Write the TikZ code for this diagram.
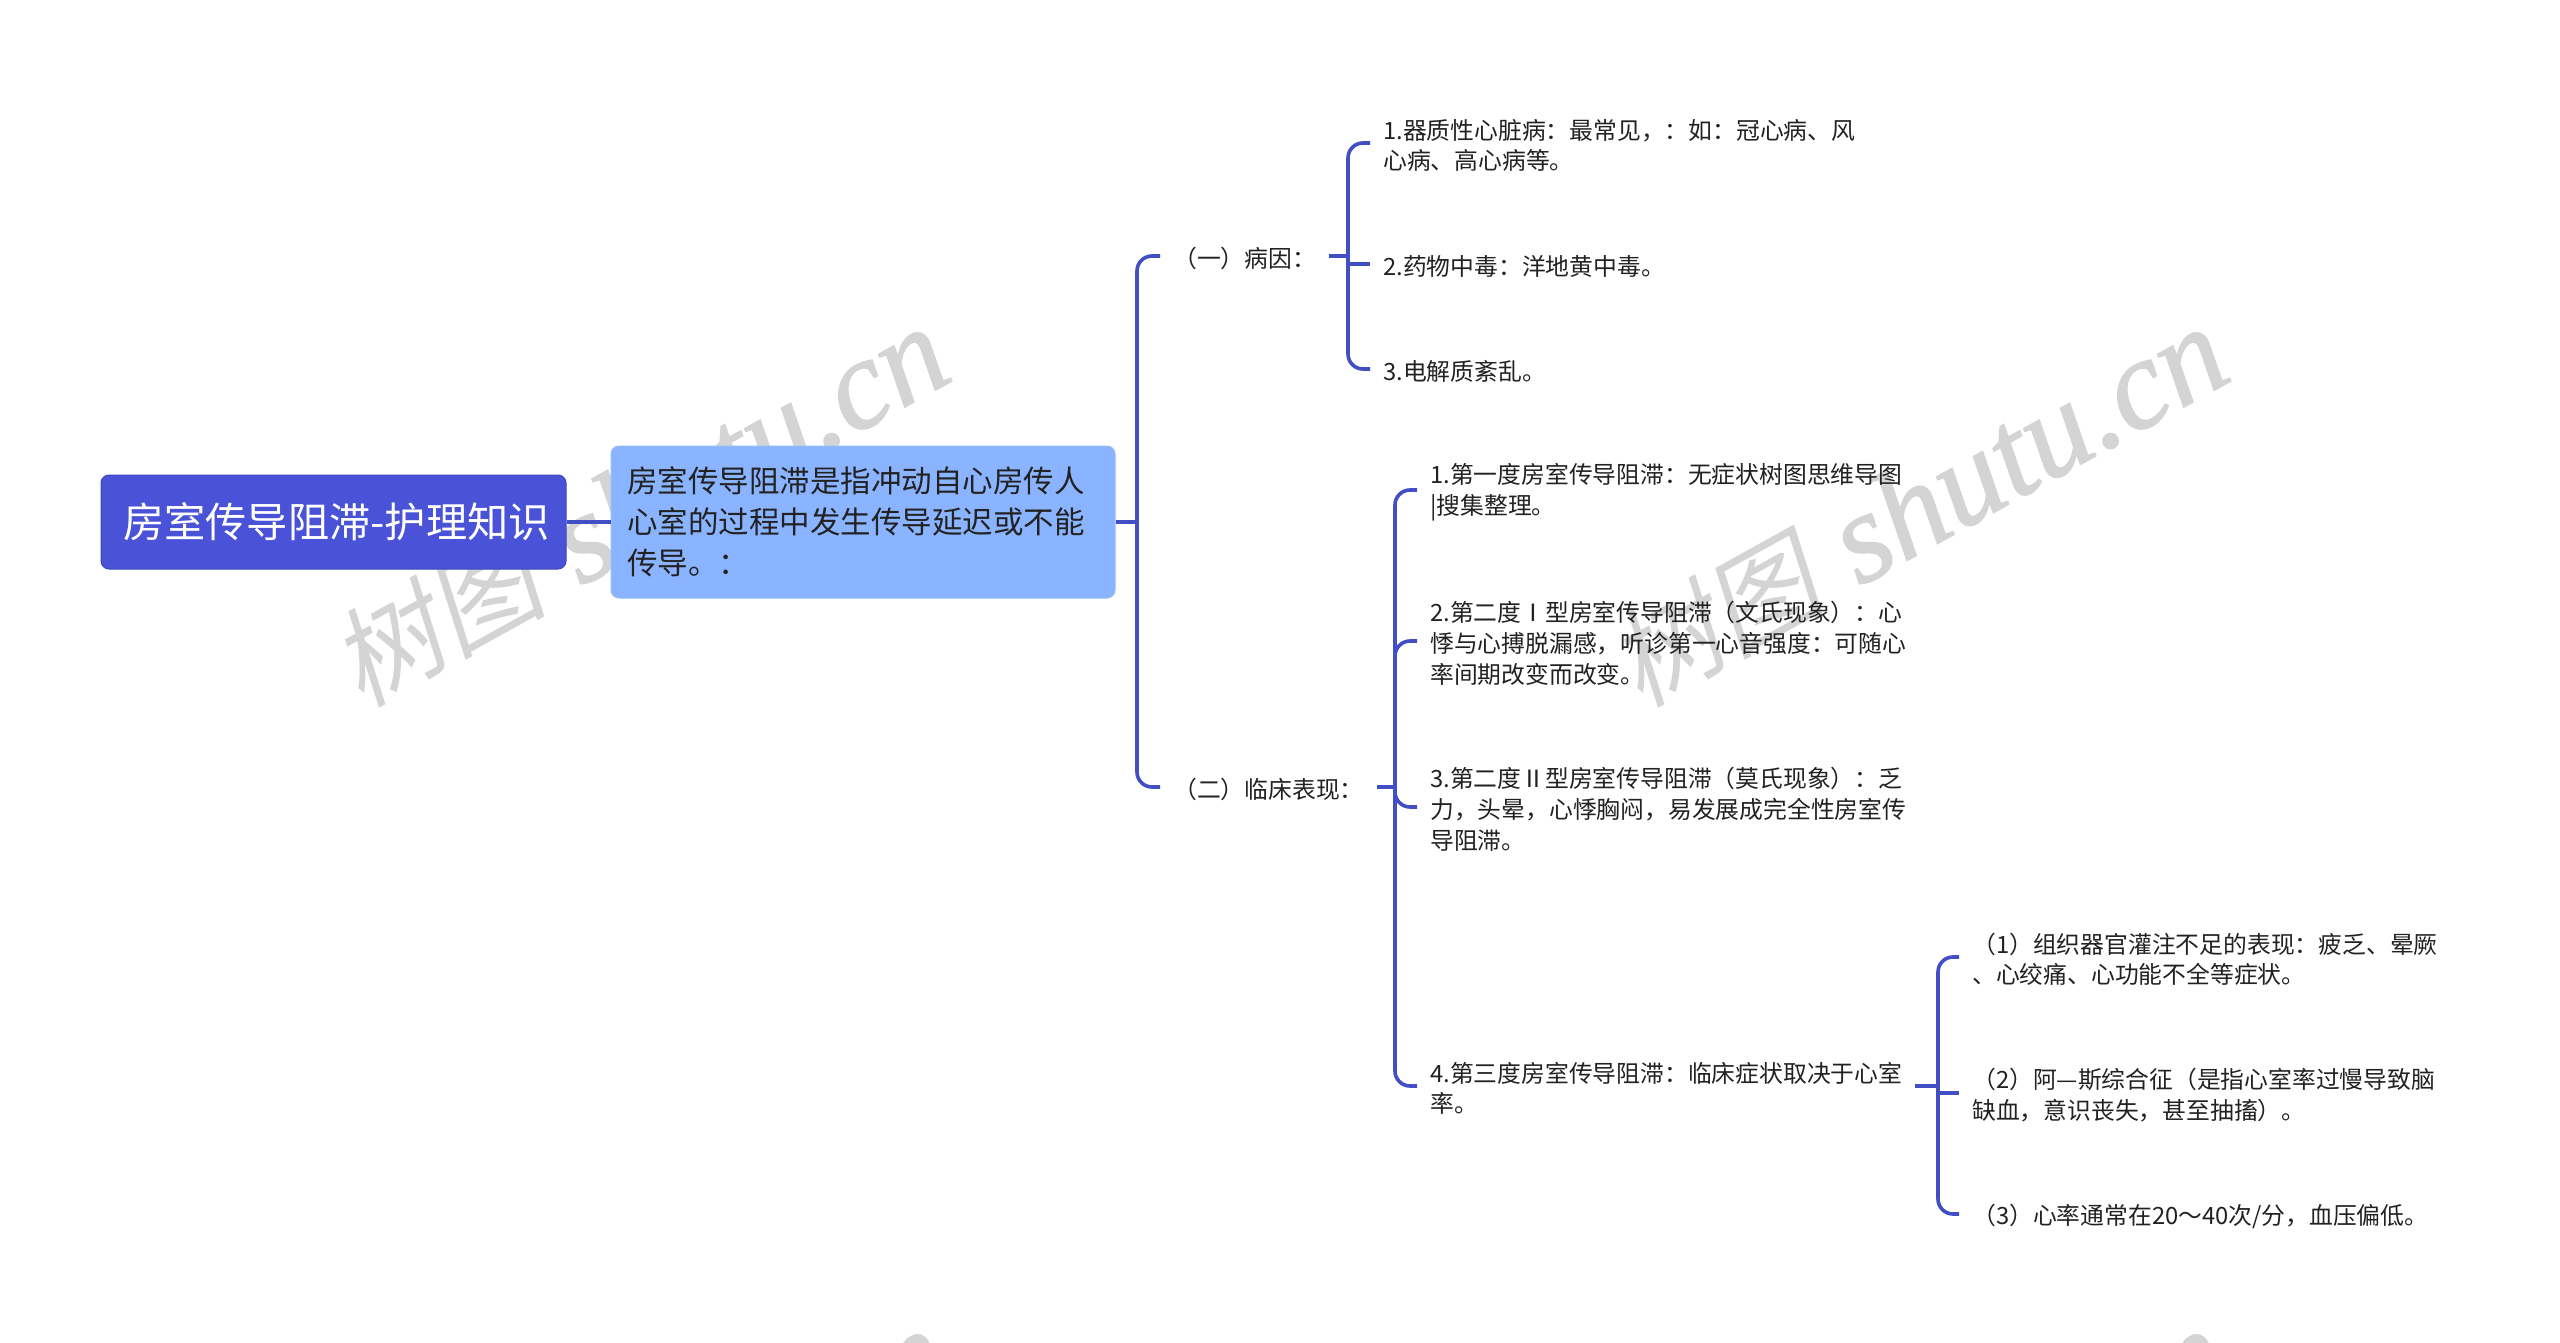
\documentclass[tikz,border=0pt]{standalone}
\usepackage{fontspec}
\setmainfont{Noto Sans CJK SC}
\newfontfamily\wmcjk[FakeSlant=0.2]{Noto Sans CJK SC}
\newfontfamily\wmlat[FakeBold=1.2]{Liberation Serif Italic}
\definecolor{rootfill}{RGB}{74,83,216}
\definecolor{rootedge}{RGB}{62,72,190}
\definecolor{subfill}{RGB}{138,180,255}
\definecolor{subedge}{RGB}{150,188,250}
\definecolor{linkcol}{RGB}{66,78,196}
\definecolor{wmcol}{RGB}{212,212,212}
\definecolor{inkcol}{RGB}{34,34,34}
\tikzset{
  rootbox/.style={draw=rootedge,line width=1pt,fill=rootfill,rounded corners=8pt,minimum width=465pt,minimum height=94pt,inner sep=0pt,text=white,font=\fontsize{41.2}{48}\selectfont},
  subbox/.style={draw=subedge,line width=1pt,fill=subfill,rounded corners=8pt,minimum width=504pt,minimum height=152pt,inner xsep=16pt,inner ysep=0pt,text width=472pt,align=left,text=inkcol,font=\fontsize{30.5}{41}\selectfont},
  leaf/.style={anchor=west,inner xsep=13pt,inner ysep=0pt,align=left,text=inkcol,font=\fontsize{23.8}{30.7}\selectfont},
  link/.style={draw=linkcol,line width=3.6pt},
  bracket/.style={link,rounded corners=15pt},
  wmark/.style={rotate=29,text=wmcol,inner sep=0pt}
}
\newcommand{\lf}{\rule{0pt}{25pt}}
\newcommand{\wmtext}{{\fontsize{108}{130}\selectfont\wmcjk 树图}\hspace{35pt}{\fontsize{128}{130}\selectfont\wmlat shutu.cn}}
\begin{document}
\begin{tikzpicture}[x=1pt,y=1pt]
\useasboundingbox (0,0) rectangle (2560,-1343);
\fill[white] (0,0) rectangle (2560,-1343);
\begin{scope}
\clip (0,0) rectangle (2560,-1343);
\node[wmark] (w1) at (639,-507.5) {\wmtext};
\node[wmark] (w2) at (1918,-507.5) {\wmtext};
\node[wmark] (w3) at (639,-1509.5) {\wmtext};
\node[wmark] (w4) at (1918,-1509.5) {\wmtext};
\end{scope}

\node[rootbox] (root) at (333.5,-522) {\hspace*{6pt}房室传导阻滞-护理知识};
\node[subbox] (sub) at (863,-522) {房室传导阻滞是指冲动自心房传人\\心室的过程中发生传导延迟或不能\\传导。：};

\node[leaf] (pa) at (1160,-256) {\lf（一）病因：};
\node[leaf] (pb) at (1160,-787) {\lf（二）临床表现：};

\node[leaf] (a1) at (1370,-143) {\lf 1.器质性心脏病：最常见，：如：冠心病、风\\心病、高心病等。};
\node[leaf] (a2) at (1370,-264) {\lf 2.药物中毒：洋地黄中毒。};
\node[leaf] (a3) at (1370,-369) {\lf 3.电解质紊乱。};

\node[leaf] (b1) at (1417,-490) {\lf 1.第一度房室传导阻滞：无症状树图思维导图\\|搜集整理。};
\node[leaf] (b2) at (1417,-641) {\lf 2.第二度Ⅰ型房室传导阻滞（文氏现象）：心\\悸与心搏脱漏感，听诊第一心音强度：可随心\\率间期改变而改变。};
\node[leaf] (b3) at (1417,-807) {\lf 3.第二度Ⅱ型房室传导阻滞（莫氏现象）：乏\\力，头晕，心悸胸闷，易发展成完全性房室传\\导阻滞。};
\node[leaf] (b4) at (1417,-1086) {\lf 4.第三度房室传导阻滞：临床症状取决于心室\\率。};

\node[leaf] (c1) at (1959,-957) {\lf（1）组织器官灌注不足的表现：疲乏、晕厥\\、心绞痛、心功能不全等症状。};
\node[leaf] (c2) at (1959,-1093) {\lf（2）阿—斯综合征（是指心室率过慢导致脑\\缺血，意识丧失，甚至抽搐）。};
\node[leaf] (c3) at (1959,-1214) {\lf（3）心率通常在20～40次/分，血压偏低。};

\coordinate (tm) at (1137,-522);
\coordinate (ta) at (1348,-256);
\coordinate (tb) at (1395,-787);
\coordinate (tc) at (1938,-1086);

\draw[link] (root.east) -- (sub.west);
\draw[link] (sub.east) -- (tm);
\draw[bracket] (pa.west) -- (tm |- pa.west) -- (tm |- pb.west) -- (pb.west);

\draw[link] (pa.east) -- (ta);
\draw[bracket] (a1.west) -- (ta |- a1.west) -- (ta |- a3.west) -- (a3.west);
\draw[link] (ta |- a2.west) -- (a2.west);

\draw[link] (pb.east) -- (tb);
\draw[bracket] (b1.west) -- (tb |- b1.west) -- (tb |- b4.west) -- (b4.west);
\draw[bracket] (tb |- b2.west) ++(0,-25) -- ++(0,25) -- (b2.west);
\draw[bracket] (tb |- b3.west) ++(0,25) -- ++(0,-25) -- (b3.west);

\draw[link] (b4.east) -- (tc);
\draw[bracket] (c1.west) -- (tc |- c1.west) -- (tc |- c3.west) -- (c3.west);
\draw[link] (tc |- c2.west) -- (c2.west);
\end{tikzpicture}
\end{document}
